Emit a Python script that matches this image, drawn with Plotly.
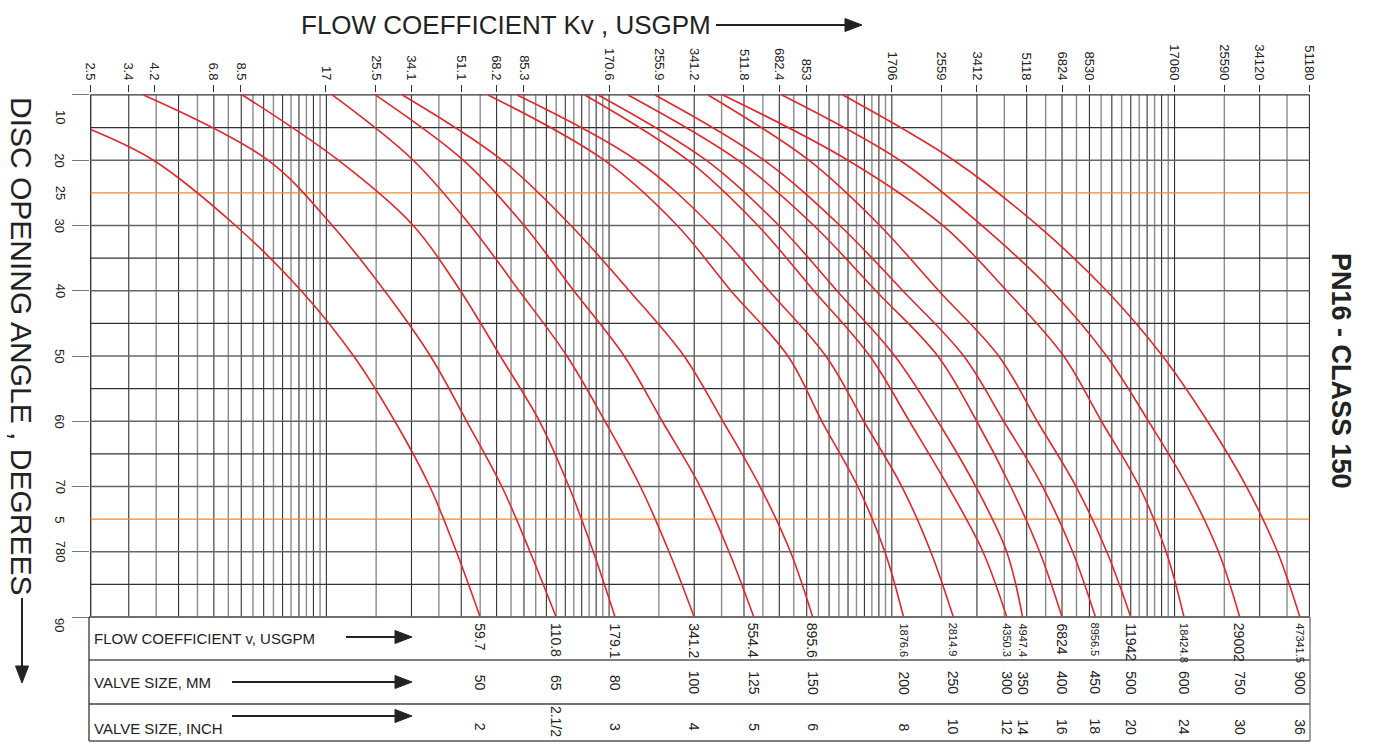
import math
import plotly.graph_objects as go

# ------------------------------------------------------------------ data
top_tick_values = [2.5, 3.4, 4.2, 6.8, 8.5, 17, 25.5, 34.1, 51.1, 68.2, 85.3,
                   170.6, 255.9, 341.2, 511.8, 682.4, 853, 1706, 2559, 3412,
                   5118, 6824, 8530, 17060, 25590, 34120, 51180]
top_tick_labels = ["2.5", "3.4", "4.2", "6.8", "8.5", "17", "25.5", "34.1", "51.1",
                   "68.2", "85.3", "170.6", "255.9", "341.2", "511.8", "682.4", "853",
                   "1706", "2559", "3412", "5118", "6824", "8530", "17060", "25590",
                   "34120", "51180"]

angle_tick_values = [10, 20, 25, 30, 40, 50, 60, 70, 75, 80, 90]
angle_tick_labels = ["10", "20", "25", "30", "40", "50", "60", "70", "5", "780", "90"]

# log-paper grid: decade bases and subdivisions
decade_bases = [1.706, 17.06, 170.6, 1706, 17060]
grid_multipliers = [1, 1.5, 2, 2.5, 3, 3.5, 4, 4.5, 5, 5.5, 6, 6.5, 7, 7.5, 8, 8.5, 9, 9.5]

angles_std = [10, 20, 30, 40, 50, 60, 70, 80, 90]
angles_dn50 = [15.3, 20, 30, 40, 50, 60, 70, 80, 90]

kv_dn50 = [2.5, 4.17, 8.14, 13.9, 21.3, 29.8, 39.6, 49.2, 59.7]
kv_dn65 = [3.85, 10.6, 17.9, 27.4, 39.8, 53.5, 71.2, 89.6, 110.8]
kv_dn80 = [8.61, 18.8, 34.6, 50.8, 70.3, 96.8, 123, 150, 179.1]
kv_dn100 = [17.9, 34.6, 55.1, 82.0, 121, 165, 220, 278, 341.2]
kv_dn125 = [25.4, 52.0, 85.4, 128, 193, 263, 358, 453, 554.4]
kv_dn150 = [31.7, 71.4, 125, 201, 314, 431, 583, 747, 895.6]
kv_dn200 = [63.7, 164, 297, 460, 732, 965, 1293, 1612, 1876.6]
kv_dn250 = [80.7, 213, 391, 627, 997, 1358, 1851, 2343, 2814.9]
kv_dn300 = [140, 324, 573, 904, 1426, 1969, 2699, 3583, 4350.3]
kv_dn350 = [156, 376, 680, 1091, 1748, 2480, 3379, 4348, 4947.4]
kv_dn400 = [199, 487, 904, 1497, 2480, 3407, 4491, 5687, 6824]
kv_dn450 = [248, 602, 1117, 1866, 3064, 4243, 5827, 7439, 8956.5]
kv_dn500 = [382, 868, 1547, 2500, 4074, 5577, 7648, 9824, 11942]
kv_dn600 = [431, 1193, 2583, 4348, 6913, 9404, 12800, 15930, 18424.8]
kv_dn750 = [697, 1820, 3547, 6271, 9808, 13800, 18960, 24400, 29002]
kv_dn900 = [1145, 2825, 5595, 9808, 15470, 22310, 30640, 39440, 47341.5]

flow_usgpm_labels = ["59.7", "110.8", "179.1", "341.2", "554.4", "895.6", "1876.6",
                     "2814.9", "4350.3", "4947.4", "6824", "8956.5", "11942",
                     "18424.8", "29002", "47341.5"]
valve_size_mm = ["50", "65", "80", "100", "125", "150", "200", "250", "300", "350",
                 "400", "450", "500", "600", "750", "900"]
valve_size_inch = ["2", "2.1/2", "3", "4", "5", "6", "8", "10", "12", "14", "16",
                   "18", "20", "24", "30", "36"]

curves = [
    (angles_dn50, kv_dn50), (angles_std, kv_dn65), (angles_std, kv_dn80),
    (angles_std, kv_dn100), (angles_std, kv_dn125), (angles_std, kv_dn150),
    (angles_std, kv_dn200), (angles_std, kv_dn250), (angles_std, kv_dn300),
    (angles_std, kv_dn350), (angles_std, kv_dn400), (angles_std, kv_dn450),
    (angles_std, kv_dn500), (angles_std, kv_dn600), (angles_std, kv_dn750),
    (angles_std, kv_dn900),
]

# ------------------------------------------------------------------ layout geometry
W, H = 1384, 745
Y_LO, Y_HI = 9.7, 90.3           # angle range (reversed axis)
PL, PR = 90, 1310               # plot area, px
PT, PB = 93, 619
FONT = "Liberation Sans, Arial, Helvetica, sans-serif"
RED = "#e4262b"
ORANGE = "#f08a30"
DARK = "#333333"
MID = "#666666"
GRAY = "#8c8c8c"
TXT = "#222222"

X_MIN, X_MAX = 2.5, 51180


def paper_x(px):
    return (px - PL) / (PR - PL)


def paper_y(py):
    return 1 - (py - PT) / (PB - PT)


fig = go.Figure()

# ---------------- vertical log-paper grid
grid_dark_x, grid_gray_x = [], []
for b in decade_bases:
    for m in grid_multipliers:
        v = b * m
        if v < 2.6 or v > 51200:
            continue
        target = grid_dark_x if (m == int(m)) else grid_gray_x
        target += [v, v, None]


def vlines(xs):
    ys = []
    for i in range(0, len(xs), 3):
        ys += [10, 90, None]
    return ys


fig.add_trace(go.Scatter(x=grid_gray_x, y=vlines(grid_gray_x), mode="lines",
                         line=dict(color=GRAY, width=1.4), hoverinfo="skip"))
fig.add_trace(go.Scatter(x=grid_dark_x, y=vlines(grid_dark_x), mode="lines",
                         line=dict(color=DARK, width=1.1), hoverinfo="skip"))
fig.add_trace(go.Scatter(x=[X_MIN, X_MIN], y=[10, 90], mode="lines",
                         line=dict(color=DARK, width=1.6), hoverinfo="skip"))

# ---------------- horizontal grid
h_dark = [10, 15, 35, 45, 55, 65, 85]
h_mid = [20, 30, 40, 50, 60, 70, 80, 90]
h_orange = [25, 75]


def hlines(angles):
    xs, ys = [], []
    for a in angles:
        xs += [X_MIN, X_MAX, None]
        ys += [a, a, None]
    return xs, ys


for group, col, wid in [(h_mid, MID, 1.5), (h_dark, DARK, 1.3), (h_orange, ORANGE, 1.4)]:
    hx, hy = hlines(group)
    fig.add_trace(go.Scatter(x=hx, y=hy, mode="lines", line=dict(color=col, width=wid),
                             hoverinfo="skip"))

# ---------------- red characteristic curves
for ang, kv in curves:
    fig.add_trace(go.Scatter(x=kv, y=ang, mode="lines",
                             line=dict(color=RED, width=1.6, shape="spline", smoothing=1.0),
                             hoverinfo="skip"))

# ---------------- shapes (table, arrows)
shapes = []


def seg(x0, y0, x1, y1, color=DARK, width=1.4):
    shapes.append(dict(type="line", xref="paper", yref="paper",
                       x0=paper_x(x0), y0=paper_y(y0), x1=paper_x(x1), y1=paper_y(y1),
                       line=dict(color=color, width=width)))


def arrow_right(x0, x1, y, head=17, half=6.5, width=2):
    seg(x0, y, x1 - head + 1, y, color=TXT, width=width)
    path = (f"M {paper_x(x1 - head)},{paper_y(y - half)} L {paper_x(x1)},{paper_y(y)} "
            f"L {paper_x(x1 - head)},{paper_y(y + half)} Z")
    shapes.append(dict(type="path", xref="paper", yref="paper", path=path,
                       fillcolor=TXT, line=dict(color=TXT, width=1)))


def arrow_down(x, y0, y1, head=17, half=6.5, width=2):
    seg(x, y0, x, y1 - head + 1, color=TXT, width=width)
    path = (f"M {paper_x(x - half)},{paper_y(y1 - head)} L {paper_x(x)},{paper_y(y1)} "
            f"L {paper_x(x + half)},{paper_y(y1 - head)} Z")
    shapes.append(dict(type="path", xref="paper", yref="paper", path=path,
                       fillcolor=TXT, line=dict(color=TXT, width=1)))


# table frame
TL, TR = 89, 1310
seg(TL, 617, TR, 617, color=MID, width=1.4)
seg(TL, 660, TR, 660, color="#555", width=1.4)
seg(TL, 704, TR, 704, color="#444", width=1.4)
seg(TL, 741, TR, 741, color="#555", width=1.4)
seg(TL, 617, TL, 741, color="#444", width=1.4)
seg(TR, 617, TR, 741, color="#777", width=1.4)

# arrows
arrow_right(716, 862, 25)
arrow_down(22, 598, 683)
arrow_right(346, 412, 637)
arrow_right(232, 412, 682)
arrow_right(232, 412, 716)

# ---------------- annotations
ann = []


def text(t, x, y, size, angle=0, xref="paper", yref="paper", xanchor="center",
         yanchor="middle", yshift=0):
    ann.append(dict(text=t, xref=xref, yref=yref, x=x, y=y, xanchor=xanchor,
                    yanchor=yanchor, yshift=yshift, showarrow=False, textangle=angle,
                    font=dict(size=size, color=TXT, family=FONT)))


text("FLOW COEFFICIENT Kv , USGPM", paper_x(506), paper_y(25), 26)
text("DISC OPENING ANGLE , DEGREES", paper_x(22), paper_y(346), 30, angle=90)
text("<b>PN16 - CLASS 150</b>", paper_x(1341), paper_y(371), 27, angle=90)

# left angle labels
for a, lab in zip(angle_tick_values, angle_tick_labels):
    shift = -22 if a == 10 else (-8 if a == 90 else 0)
    text(lab, paper_x(60), a, 13, angle=90, yref="y", yshift=shift)

# table row titles
for txt, py in [("FLOW COEFFICIENT v, USGPM", 638), ("VALVE SIZE, MM", 682),
                ("VALVE SIZE, INCH", 728)]:
    text(txt, paper_x(92), paper_y(py), 15, xanchor="left")

# table values (placed at each curve's fully-open Kv on the log axis)
for flow, mm, inch in zip(flow_usgpm_labels, valve_size_mm, valve_size_inch):
    xv = math.log10(float(flow))
    fsz = 11 if len(flow) > 5 else 14
    text(flow, xv, paper_y(621), fsz, angle=90, xref="x", yanchor="top")
    text(mm, xv, paper_y(683), 14, angle=90, xref="x")
    text(inch, xv, paper_y(721 if len(inch) > 2 else 727), 14, angle=90, xref="x")

fig.update_layout(
    width=W, height=H,
    margin=dict(l=PL, r=W - PR, t=PT, b=H - PB, pad=0),
    paper_bgcolor="white", plot_bgcolor="white",
    showlegend=False,
    font=dict(family=FONT, color=TXT),
    xaxis=dict(type="log", range=[math.log10(X_MIN) - 0.002, math.log10(X_MAX) + 0.002],
               side="top", tickmode="array", tickvals=top_tick_values,
               ticktext=top_tick_labels, tickangle=90, ticks="outside", ticklen=7,
               tickwidth=1, tickcolor=DARK, showgrid=False, zeroline=False,
               showline=False, tickfont=dict(size=13, color=TXT, family=FONT),
               fixedrange=True),
    yaxis=dict(range=[Y_HI, Y_LO], tickmode="array",
               tickvals=[10, 20, 30, 40, 50, 60, 70, 80, 90],
               ticks="outside", ticklen=17, tickwidth=1.2, tickcolor="#777",
               showticklabels=False, showgrid=False, zeroline=False, showline=False,
               fixedrange=True),
    shapes=shapes,
    annotations=ann,
)

fig.write_html("out.html", config={"displayModeBar": False})
